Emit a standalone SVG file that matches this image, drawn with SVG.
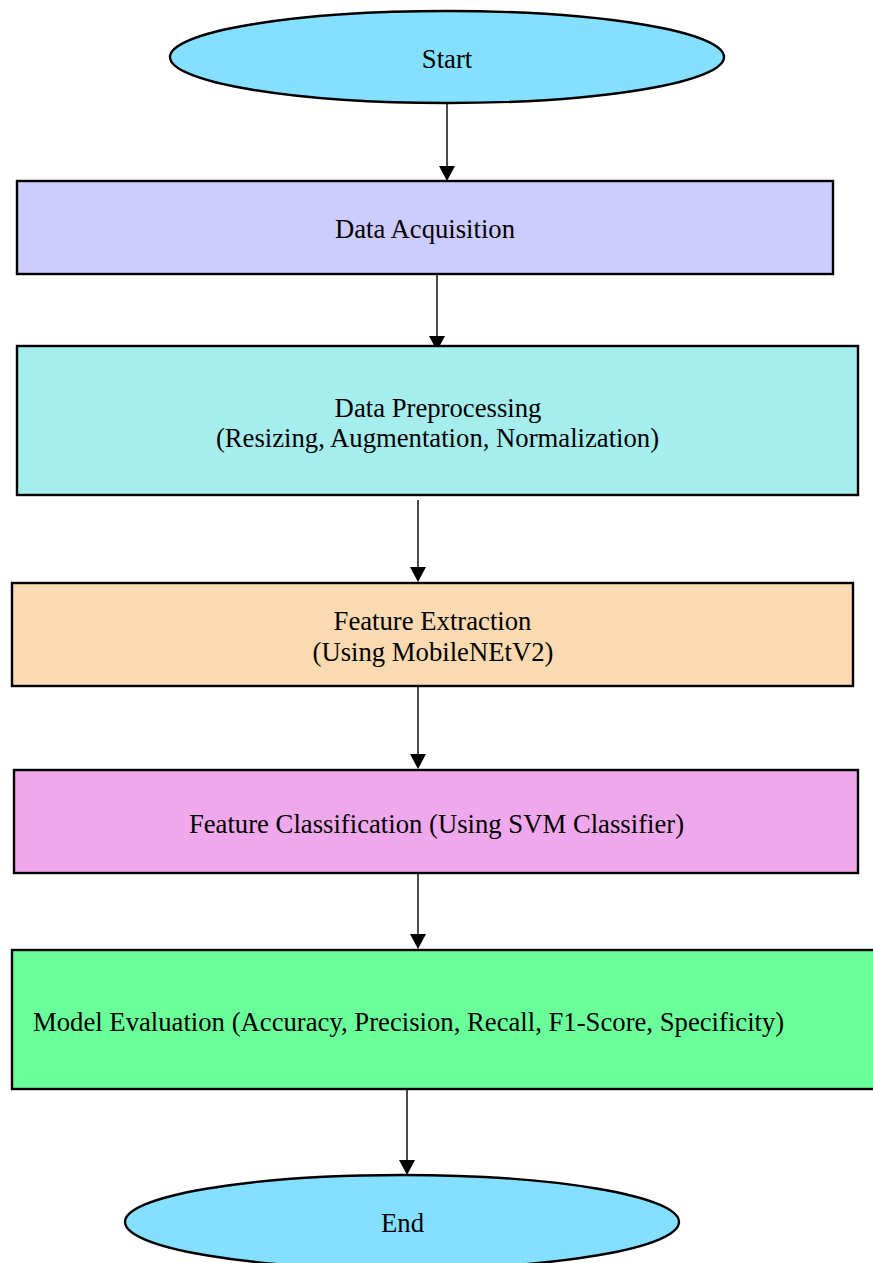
<svg xmlns="http://www.w3.org/2000/svg" width="873" height="1263" viewBox="0 0 873 1263">
<style>
.n{stroke:#000;stroke-width:2.4}
.t{font-family:"Liberation Serif","Times New Roman",serif;font-size:26.7px;fill:#000;text-anchor:middle;dominant-baseline:central}
.c{stroke:#111;stroke-width:1.5;fill:none}
.h{fill:#000}
</style>
<rect width="873" height="1263" fill="#fff"/>
<g id="connectors">
<line class="c" x1="447" y1="103" x2="447" y2="168"/>
<line class="c" x1="437" y1="268" x2="437" y2="338"/>
<line class="c" x1="418" y1="500" x2="418" y2="569"/>
<line class="c" x1="418" y1="686" x2="418" y2="756"/>
<line class="c" x1="418" y1="873" x2="418" y2="936"/>
<line class="c" x1="407" y1="1089" x2="407" y2="1162"/>
<path class="h" d="M439,166 L455,166 L447,181 Z"/>
<path class="h" d="M429,336 L445,336 L437,351 Z"/>
<path class="h" d="M410,567 L426,567 L418,582 Z"/>
<path class="h" d="M410,754 L426,754 L418,769 Z"/>
<path class="h" d="M410,934 L426,934 L418,949 Z"/>
<path class="h" d="M399,1160 L415,1160 L407,1175 Z"/>
</g>
<g id="start">
<ellipse class="n" cx="447" cy="57" rx="277" ry="46" fill="#85E0FF"/>
<text class="t" x="447" y="59">Start</text>
</g>
<g id="acquisition">
<rect class="n" x="17" y="181" width="816" height="93" fill="#CCCCFF"/>
<text class="t" x="425" y="229">Data Acquisition</text>
</g>
<g id="preprocessing">
<rect class="n" x="17" y="346" width="841" height="149" fill="#A6EEEE"/>
<text class="t" x="438" y="408">Data Preprocessing</text>
<text class="t" x="437.5" y="438">(Resizing, Augmentation, Normalization)</text>
</g>
<g id="extraction">
<rect class="n" x="12" y="583" width="841" height="103" fill="#FADAB0"/>
<text class="t" x="432.5" y="621">Feature Extraction</text>
<text class="t" x="433" y="652">(Using MobileNEtV2)</text>
</g>
<g id="classification">
<rect class="n" x="14" y="770" width="844" height="103" fill="#F0A8EC"/>
<text class="t" x="436.5" y="824">Feature Classification (Using SVM Classifier)</text>
</g>
<g id="evaluation">
<rect class="n" x="12" y="950" width="866" height="139" fill="#6AFF9A"/>
<text class="t" x="33" y="1022" style="text-anchor:start">Model Evaluation (Accuracy, Precision, Recall, F1-Score, Specificity)</text>
</g>
<g id="end">
<ellipse class="n" cx="402" cy="1222" rx="277" ry="47" fill="#85E0FF"/>
<text class="t" x="402.5" y="1223">End</text>
</g>
</svg>
